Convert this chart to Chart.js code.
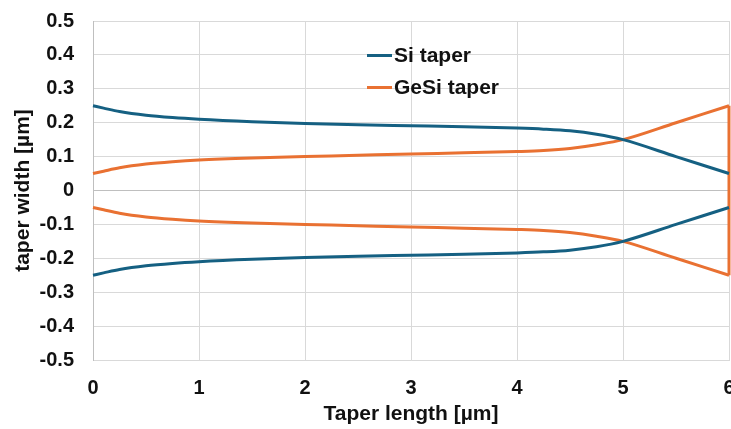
<!DOCTYPE html>
<html>
<head>
<meta charset="utf-8">
<script src="https://cdn.jsdelivr.net/npm/chart.js@4"></script>
<style>
  body { margin: 0; background: #fff; }
  #wrap { position: relative; width: 731px; height: 429px; }
  .item { position: absolute; left: 367px; height: 30px; display: flex; align-items: center;
          font: bold 21px "Liberation Sans", Arial, sans-serif; color: #111; }
  .item span.line { display: inline-block; width: 25px; height: 3px; margin-right: 2px; }
</style>
</head>
<body>
<div id="wrap">
  <canvas id="myChart"></canvas>
  <div class="item" style="top:40px"><span class="line" style="background:#156082"></span>Si taper</div>
  <div class="item" style="top:72px"><span class="line" style="background:#E97132"></span>GeSi taper</div>
</div>
<script>
// taper position along x [µm]
const xPos = [0, 0.1, 0.25, 0.5, 0.75, 1, 1.5, 2, 2.5, 3, 3.5, 4, 4.25, 4.5, 4.75, 5, 5.5, 6];
// upper / lower edges of each taper [µm]
const siTop      = [0.25, 0.243, 0.233, 0.222, 0.215, 0.21, 0.203, 0.198, 0.194, 0.191, 0.188, 0.184, 0.181, 0.176, 0.166, 0.15, 0.1, 0.05];
const siBottom   = [-0.25, -0.243, -0.233, -0.222, -0.215, -0.21, -0.203, -0.198, -0.194, -0.191, -0.188, -0.184, -0.181, -0.176, -0.166, -0.15, -0.1, -0.05];
const geSiTop    = [0.05, 0.057, 0.067, 0.078, 0.085, 0.09, 0.096, 0.1, 0.104, 0.108, 0.111, 0.115, 0.118, 0.124, 0.135, 0.15, 0.2, 0.25];
const geSiBottom = [-0.05, -0.057, -0.067, -0.078, -0.085, -0.09, -0.096, -0.1, -0.104, -0.108, -0.111, -0.115, -0.118, -0.124, -0.135, -0.15, -0.2, -0.25];

const xTicks = [0, 1, 2, 3, 4, 5, 6];
const yTicks = [-0.5, -0.4, -0.3, -0.2, -0.1, 0, 0.1, 0.2, 0.3, 0.4, 0.5];

const siColor = "#156082";
const geSiColor = "#E97132";

const pts = (ys) => xPos.map((x, i) => ({ x: x, y: ys[i] }));
// end face of the GeSi taper at the last x position
const last = xPos.length - 1;
const geSiEnd = [
  { x: xPos[last], y: geSiTop[last] },
  { x: xPos[last], y: geSiBottom[last] },
];

const tickFont = { family: "'Liberation Sans', Arial, sans-serif", size: 20, weight: "bold" };
const titleFont = { family: "'Liberation Sans', Arial, sans-serif", size: 21, weight: "bold" };

const lineDs = (label, data, color) => ({
  label: label,
  data: data,
  showLine: true,
  borderColor: color,
  backgroundColor: color,
  borderWidth: 3,
  pointRadius: 0,
  cubicInterpolationMode: "monotone",
  clip: false,
});

new Chart(document.getElementById("myChart"), {
  type: "scatter",
  data: {
    datasets: [
      lineDs("Si taper", pts(siTop), siColor),
      lineDs("Si taper bottom", pts(siBottom), siColor),
      lineDs("GeSi taper", pts(geSiTop), geSiColor),
      lineDs("GeSi taper bottom", pts(geSiBottom), geSiColor),
      Object.assign(lineDs("GeSi taper end", geSiEnd, geSiColor), { cubicInterpolationMode: "default", tension: 0 }),
    ],
  },
  options: {
    responsive: true,
    maintainAspectRatio: false,
    animation: false,
    layout: { padding: { top: 21, right: 2, left: 11, bottom: 0 } },
    plugins: {
      legend: { display: false },
      tooltip: { enabled: false },
    },
    scales: {
      x: {
        type: "linear",
        min: 0,
        max: 6,
        afterBuildTicks: (s) => { s.ticks = xTicks.map((v) => ({ value: v })); },
        afterFit: (s) => { s.height = 429 - 0 - 360; s.paddingLeft = 0; s.paddingRight = 0; },
        grid: { color: "#d9d9d9", drawTicks: false },
        border: { color: "#d9d9d9" },
        ticks: { font: tickFont, color: "#111", padding: 16, maxRotation: 0 },
        title: { display: true, text: "Taper length [µm]", font: titleFont, color: "#111", padding: { bottom: 2 } },
      },
      y: {
        min: -0.5,
        max: 0.5,
        afterBuildTicks: (s) => { s.ticks = yTicks.map((v) => ({ value: v })); },
        afterFit: (s) => { s.width = 93 - 11; s.paddingTop = 0; s.paddingBottom = 0; },
        grid: {
          color: (ctx) => (ctx.tick && ctx.tick.value === 0 ? "#bfbfbf" : "#d9d9d9"),
          drawTicks: false,
        },
        border: { color: "#bfbfbf" },
        ticks: {
          font: tickFont,
          color: "#111",
          padding: 19,
          callback: (v) => String(Math.round(v * 10) / 10),
        },
        title: { display: true, text: "taper width [µm]", font: titleFont, color: "#111", padding: { top: 0 } },
      },
    },
  },
});
</script>
</body>
</html>
